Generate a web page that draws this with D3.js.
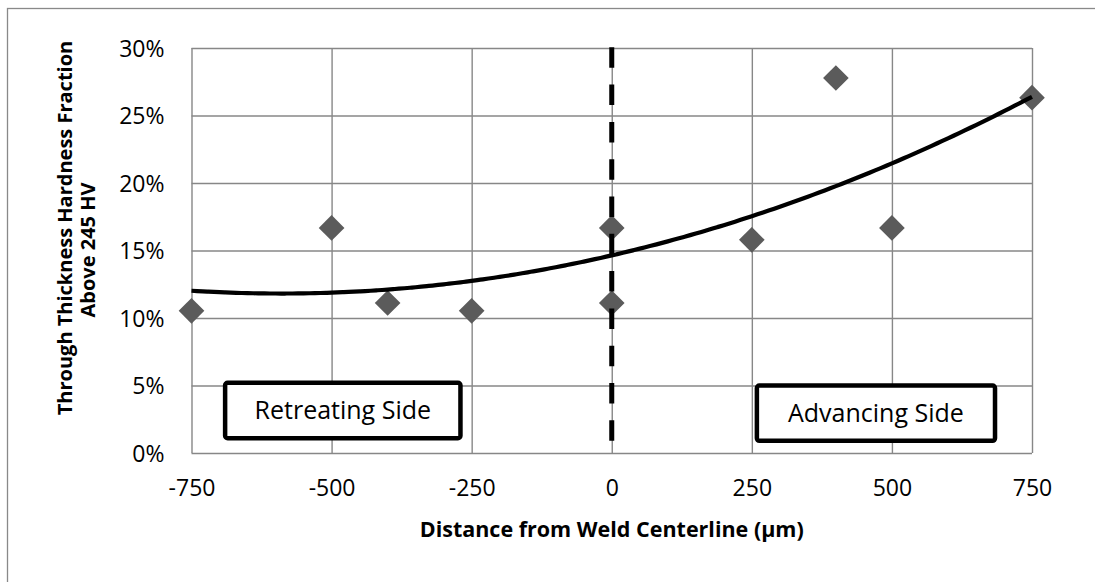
<!DOCTYPE html>
<html>
<head>
<meta charset="utf-8">
<script src="https://cdn.jsdelivr.net/npm/d3@7"></script>
<style>
  html, body { margin: 0; padding: 0; background: #fff; }
  svg { display: block; }
  text { font-family: "Open Sans", "Noto Sans", sans-serif; fill: #000; }
</style>
</head>
<body>
<svg id="chart" width="1095" height="582"></svg>
<script>
// Distance from weld centerline (µm) and hardness fraction above 245 HV
const distances = [-750, -500, -400, -250, 0, 0, 250, 400, 500, 750];
const fractions = [0.1053, 0.1667, 0.1111, 0.1053, 0.1667, 0.1111, 0.1579, 0.2778, 0.1667, 0.2632];

const xTicks = [-750, -500, -250, 0, 250, 500, 750];
const yTicks = [0, 0.05, 0.10, 0.15, 0.20, 0.25, 0.30];

const xTitle = "Distance from Weld Centerline (µm)";
const yTitleLines = ["Through Thickness Hardness Fraction", "Above 245 HV"];
const sideLabels = [
  { text: "Retreating Side", x0: -690, x1: -270, y0: 0.052, y1: 0.011 },
  { text: "Advancing Side", x0: 259, x1: 684, y0: 0.050, y1: 0.009 }
];

const svg = d3.select("#chart");

// outer chart frame (runs past the right and bottom edges)
svg.append("rect")
  .attr("x", 7.5).attr("y", 8.5).attr("width", 1200).attr("height", 700)
  .attr("fill", "#fff").attr("stroke", "#898989").attr("stroke-width", 1.3);

const plot = { left: 191.5, right: 1032, top: 48, bottom: 453 };

const x = d3.scaleLinear().domain([-750, 750]).range([plot.left, plot.right]);
const y = d3.scaleLinear().domain([0, 0.30]).range([plot.bottom, plot.top]);

const gridColor = "#878787";
const tickFont = 23;

// vertical gridlines + x labels
const xAxis = d3.axisBottom(x)
  .tickValues(xTicks)
  .tickSize(-(plot.bottom - plot.top))
  .tickFormat(d => String(d));
const gx = svg.append("g")
  .attr("transform", `translate(0,${plot.bottom})`)
  .call(xAxis);
gx.select(".domain").remove();
gx.selectAll(".tick line").attr("stroke", gridColor).attr("stroke-width", 1.4);
gx.selectAll(".tick text")
  .attr("font-size", tickFont).attr("font-family", "Open Sans")
  .attr("dy", "0.35em").attr("y", 35).attr("fill", "#000");

// horizontal gridlines + y labels
const yAxis = d3.axisLeft(y)
  .tickValues(yTicks)
  .tickSize(-(plot.right - plot.left))
  .tickPadding(27)
  .tickFormat(d3.format(".0%"));
const gy = svg.append("g")
  .attr("transform", `translate(${plot.left},0)`)
  .call(yAxis);
gy.select(".domain").remove();
gy.selectAll(".tick line").attr("stroke", gridColor).attr("stroke-width", 1.4);
gy.selectAll(".tick text")
  .attr("font-size", tickFont).attr("font-family", "Open Sans")
  .attr("dy", "0.35em").attr("fill", "#000");

// data markers (diamonds)
const diamond = d3.symbol().type(d3.symbolDiamond2).size(420);
svg.append("g").selectAll("path")
  .data(distances.map((d, i) => [d, fractions[i]]))
  .join("path")
  .attr("d", diamond)
  .attr("transform", d => `translate(${x(d[0])},${y(d[1])})`)
  .attr("fill", "#5b5b5b");

// quadratic least-squares trend line
function quadFit(xs, ys) {
  const n = xs.length;
  let s = [0, 0, 0, 0, 0], t = [0, 0, 0];
  for (let i = 0; i < n; i++) {
    const u = xs[i], v = ys[i];
    for (let k = 0; k <= 4; k++) s[k] += Math.pow(u, k);
    for (let k = 0; k <= 2; k++) t[k] += v * Math.pow(u, k);
  }
  const M = [[s[0], s[1], s[2], t[0]], [s[1], s[2], s[3], t[1]], [s[2], s[3], s[4], t[2]]];
  for (let c = 0; c < 3; c++) {
    let p = c;
    for (let r = c + 1; r < 3; r++) if (Math.abs(M[r][c]) > Math.abs(M[p][c])) p = r;
    [M[c], M[p]] = [M[p], M[c]];
    for (let r = 0; r < 3; r++) {
      if (r === c) continue;
      const f = M[r][c] / M[c][c];
      for (let k = c; k < 4; k++) M[r][k] -= f * M[c][k];
    }
  }
  return [M[0][3] / M[0][0], M[1][3] / M[1][1], M[2][3] / M[2][2]];
}
const scaled = distances.map(d => d / 250);
const [a0, a1, a2] = quadFit(scaled, fractions);
const trend = d3.range(-750, 751, 10).map(d => {
  const u = d / 250;
  return [d, a0 + a1 * u + a2 * u * u];
});
svg.append("path")
  .datum(trend)
  .attr("d", d3.line().x(d => x(d[0])).y(d => y(d[1])).curve(d3.curveMonotoneX))
  .attr("fill", "none").attr("stroke", "#000").attr("stroke-width", 4.2)
  .attr("stroke-linecap", "butt");

// weld centerline
svg.append("line")
  .attr("x1", x(0)).attr("x2", x(0))
  .attr("y1", y(0.30) - 0.7).attr("y2", y(0))
  .attr("stroke", "#000").attr("stroke-width", 5)
  .attr("stroke-dasharray", "20.5,16.8");

// side labels
sideLabels.forEach(s => {
  const bx = x(s.x0), by = y(s.y0), bw = x(s.x1) - x(s.x0), bh = y(s.y1) - y(s.y0);
  svg.append("rect")
    .attr("x", bx).attr("y", by).attr("width", bw).attr("height", bh)
    .attr("rx", 2.5)
    .attr("fill", "#fff").attr("stroke", "#000").attr("stroke-width", 4.5);
  svg.append("text")
    .attr("x", bx + bw / 2).attr("y", by + bh / 2)
    .attr("text-anchor", "middle").attr("dy", "0.35em")
    .attr("font-size", 25).text(s.text);
});

// axis titles
svg.append("text")
  .attr("x", (plot.left + plot.right) / 2).attr("y", 529)
  .attr("text-anchor", "middle").attr("dy", "0.35em")
  .attr("font-size", 21.5).attr("font-weight", "bold")
  .text(xTitle);

const yTitlePos = [[65, 228], [88, 250]];
yTitleLines.forEach((line, i) => {
  svg.append("text")
    .attr("transform", `translate(${yTitlePos[i][0]},${yTitlePos[i][1]}) rotate(-90)`)
    .attr("text-anchor", "middle").attr("dy", "0.35em")
    .attr("font-size", 20).attr("font-weight", "bold")
    .text(line);
});
</script>
</body>
</html>
